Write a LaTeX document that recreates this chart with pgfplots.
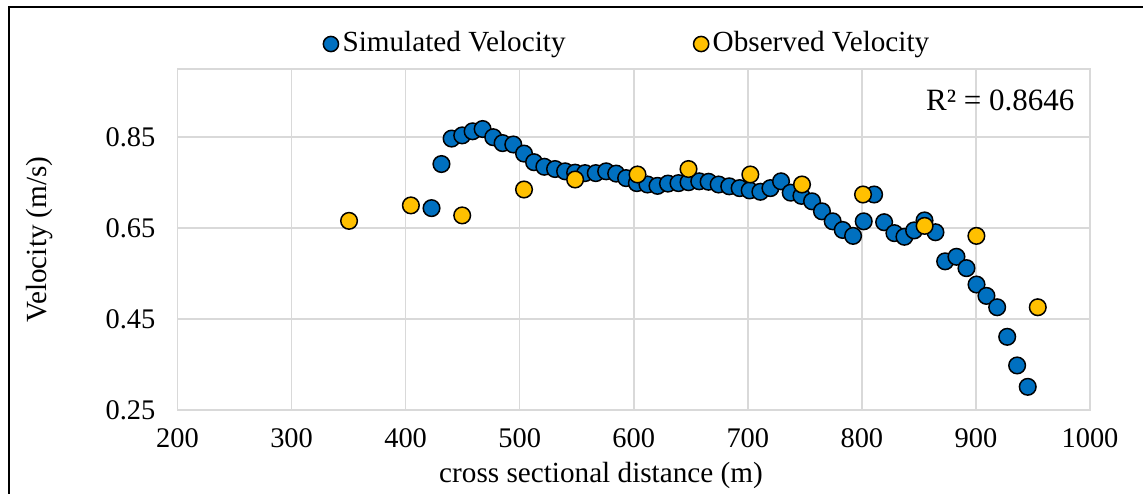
\documentclass[border=0pt]{standalone}
\usepackage{fontspec}
\setmainfont{Liberation Serif}
\usepackage{pgfplots}
\usepackage{pgfplotstable}
\pgfplotsset{compat=1.18}
\definecolor{simblue}{HTML}{0070C0}
\definecolor{obsyel}{HTML}{FFC000}
\definecolor{gridgray}{HTML}{D9D9D9}
\pgfplotstableread{
x y
422.7 0.694
431.4 0.791
440.3 0.847
449.6 0.854
458.7 0.863
467.5 0.868
476.8 0.850
485.0 0.837
494.4 0.834
503.8 0.814
512.6 0.795
521.6 0.785
531.0 0.780
539.8 0.775
548.6 0.772
557.3 0.771
566.7 0.771
575.8 0.775
584.6 0.770
593.3 0.760
602.7 0.749
612.0 0.746
620.8 0.743
630.0 0.748
639.2 0.749
648.0 0.751
657.4 0.753
665.6 0.752
674.4 0.746
683.7 0.742
692.8 0.738
701.6 0.733
711.0 0.730
719.8 0.738
729.1 0.753
737.6 0.728
747.0 0.721
756.3 0.709
765.0 0.687
774.4 0.665
783.2 0.646
792.3 0.633
801.6 0.665
810.7 0.724
819.5 0.663
828.5 0.639
837.3 0.631
845.8 0.645
854.9 0.667
864.5 0.641
873.0 0.577
882.9 0.587
891.7 0.562
900.5 0.526
909.2 0.501
918.6 0.476
927.4 0.411
936.1 0.348
945.4 0.301
}\simdata
\pgfplotstableread{
x y
350.4 0.666
404.6 0.700
449.6 0.678
503.8 0.735
548.6 0.757
603.3 0.768
648.0 0.780
702.2 0.768
747.5 0.746
801.0 0.724
855.0 0.655
900.4 0.633
954.2 0.476
}\obsdata
\begin{document}
\fontsize{14.6}{17.5}\selectfont
\begin{tikzpicture}
\begin{axis}[
  at={(0,0)}, anchor=south west,
  scale only axis, width=456.25pt, height=170.5pt,
  xmin=200, xmax=1000, ymin=0.25, ymax=1.0,
  xtick={200,300,...,1000}, ytick={0.25,0.45,0.65,0.85},
  grid=major, grid style={gridgray, line width=0.75pt},
  axis line style={gridgray, line width=0.75pt},
  major tick length=0pt,
  tick label style={font=\fontsize{14.2}{17}\selectfont},
  /pgf/number format/assume math mode=true,
  /pgf/number format/1000 sep={},
  yticklabel style={/pgf/number format/fixed, /pgf/number format/fixed zerofill, /pgf/number format/precision=2, xshift=-6pt},
  xticklabel style={yshift=-4pt},
  legend columns=2,
  legend style={draw=none, fill=none, at={(rel axis cs:0.494,1.0733)}, anchor=center,
    font=\fontsize{14.6}{17.5}\selectfont,
    /tikz/column 2/.style={column sep=62pt}},
  legend image code/.code={\draw[#1, mark size=3.8pt] plot coordinates {(0pt,0pt)};},
]
\addplot[only marks, mark=*, mark size=4.15pt, mark options={fill=simblue, draw=black, line width=0.75pt}] table[x=x,y=y] {\simdata};
\addlegendentry{Simulated Velocity}
\addplot[only marks, mark=*, mark size=4.15pt, mark options={fill=obsyel, draw=black, line width=0.75pt}] table[x=x,y=y] {\obsdata};
\addlegendentry{Observed Velocity}
\node[anchor=east, font=\fontsize{15.5}{18}\selectfont] at (rel axis cs:0.994,0.909) {R² = 0.8646};
\end{axis}
\node at (211.75pt,-32.5pt) {cross sectional distance (m)};
\node[rotate=90] at (-68.75pt,85.25pt) {Velocity (m/s)};
\draw[line width=1.2pt] (-84.25pt,-45pt) -- (-84.25pt,201.5pt) -- (490pt,201.5pt);
\pgfresetboundingbox
\path[use as bounding box] (-88.75pt,-41.5pt) rectangle (482.75pt,205pt);
\end{tikzpicture}
\end{document}
